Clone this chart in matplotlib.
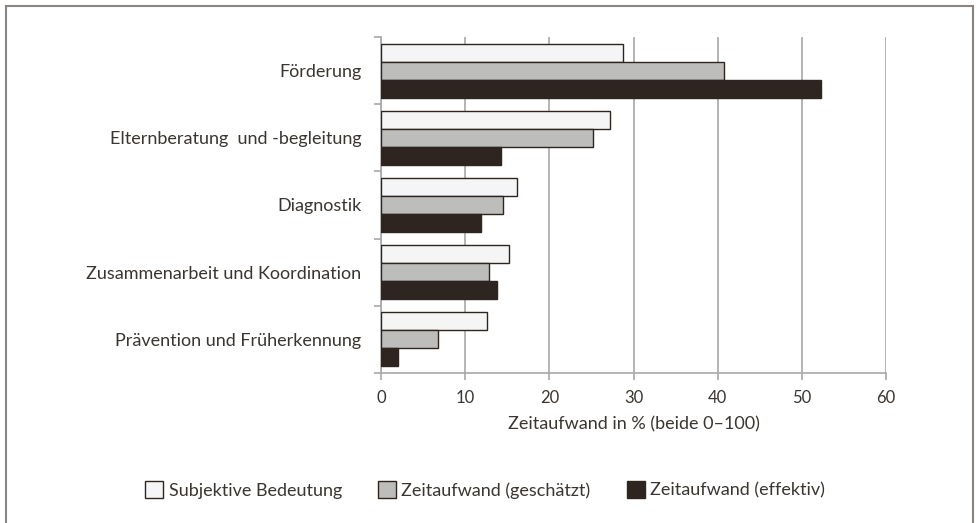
import matplotlib
matplotlib.use("Agg")
import matplotlib.pyplot as plt
import numpy as np
from matplotlib.patches import Rectangle

categories = ["Förderung", "Elternberatung  und -begleitung", "Diagnostik",
              "Zusammenarbeit und Koordination", "Prävention und Früherkennung"]
series_names = ["Subjektive Bedeutung", "Zeitaufwand (geschätzt)", "Zeitaufwand (effektiv)"]
subjektiv = [28.8, 27.2, 16.2, 15.2, 12.6]
geschaetzt = [40.8, 25.2, 14.5, 12.8, 6.8]
effektiv = [52.3, 14.2, 11.9, 13.8, 2.0]
xticks = [0, 10, 20, 30, 40, 50, 60]
xlabel = "Zeitaufwand in % (beide 0–100)"

plt.rcParams['font.family'] = ['Lato', 'DejaVu Sans']
text_color = "#3a3530"

fig = plt.figure(figsize=(9.78, 5.23), dpi=100)
ax = fig.add_axes([381/978, 1-373/523, (886-381)/978, (373-37)/523])

fills = ["#f5f5f5", "#bdbdbb", "#2e2520"]
data = [subjektiv, geschaetzt, effektiv]
y = np.arange(len(categories))
h = 0.268
for k, (vals, col, name) in enumerate(zip(data, fills, series_names)):
    ax.barh(y + (k - 1) * h, vals, height=h, color=col, edgecolor="#2e2520",
            linewidth=1.0, label=name, zorder=3)

ax.set_ylim(len(categories) - 0.5, -0.5)
ax.set_xlim(0, 60)
ax.set_xticks(xticks)
ax.set_xticklabels([str(v) for v in xticks], fontsize=12, color=text_color)
ax.grid(axis="x", color="#a8a8a8", linewidth=1.2, zorder=0)
ax.set_yticks(np.arange(len(categories) + 1) - 0.5)
ax.set_yticklabels([])
ax.set_yticks(y, minor=True)
ax.set_yticklabels(categories, minor=True, fontsize=13, color=text_color)
ax.tick_params(axis="y", which="minor", length=0, pad=14)
ax.tick_params(axis="y", which="major", length=5, color="#a8a8a8", width=1.2)
ax.tick_params(axis="x", length=5, color="#a8a8a8", width=1.2, pad=7)
for s in ["top", "right"]:
    ax.spines[s].set_visible(False)
for s in ["left", "bottom"]:
    ax.spines[s].set_color("#a8a8a8")
    ax.spines[s].set_linewidth(1.2)
ax.set_xlabel(xlabel, fontsize=13, color=text_color, labelpad=8)

leg = fig.legend(loc="center", bbox_to_anchor=(485/978, 1-490/523), ncol=3,
                 frameon=False, fontsize=13, handlelength=1.0, handleheight=1.0,
                 handletextpad=0.3, columnspacing=2.0, labelcolor=text_color)

fig.patches.append(Rectangle((6/978, -0.05), (973-6)/978, 1.05 - 6/523,
                             transform=fig.transFigure, fill=False,
                             edgecolor="#8a8480", linewidth=1.5))
fig.savefig("out.png", dpi=100)
